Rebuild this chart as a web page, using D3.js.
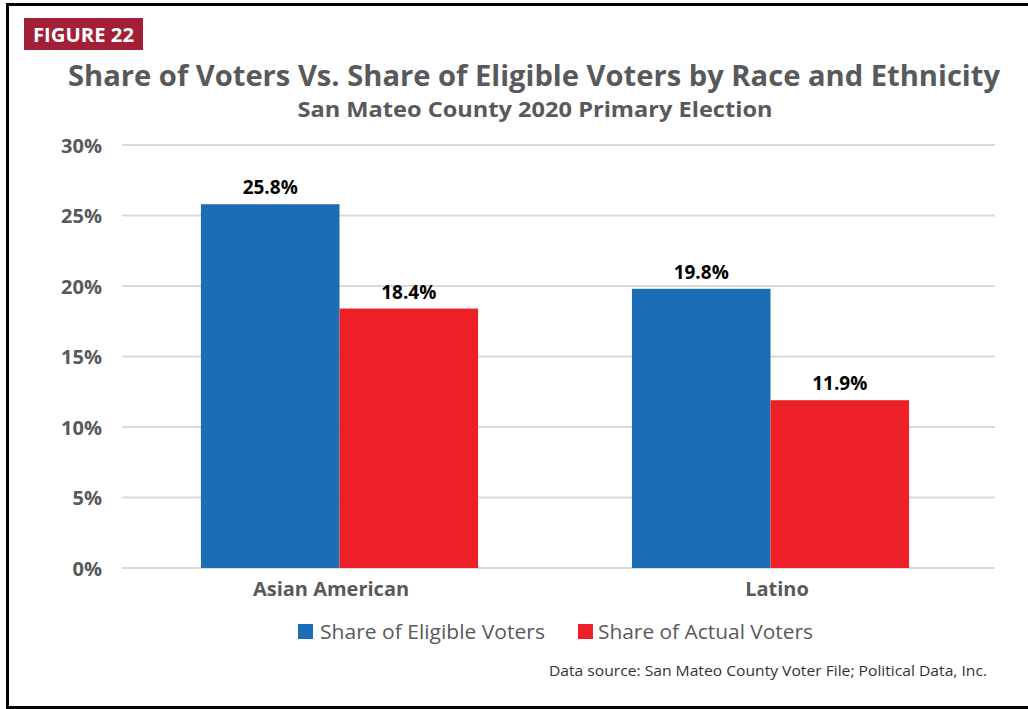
<!DOCTYPE html>
<html>
<head>
<meta charset="utf-8">
<script src="https://cdn.jsdelivr.net/npm/d3@7"></script>
<style>
  html, body { margin: 0; padding: 0; background: #fff; }
  svg { display: block; }
</style>
</head>
<body>
<svg id="chart" width="1028" height="709"></svg>
<script>
// Race / ethnicity groups and their shares (percent)
const categories = ["Asian American", "Latino"];
const seriesNames = ["Share of Eligible Voters", "Share of Actual Voters"];
const eligibleShare = [25.8, 19.8];
const actualShare = [18.4, 11.9];
const yTicks = [0, 5, 10, 15, 20, 25, 30];

const colors = ["#1b6eb6", "#ec2026"];
const grayText = "#58595b";
const fontFamily = "'Open Sans', 'Noto Sans', sans-serif";

const svg = d3.select("#chart");

// Outer frame
svg.append("rect")
  .attr("x", 7.5).attr("y", 4.5)
  .attr("width", 1040).attr("height", 703)
  .attr("fill", "#fff").attr("stroke", "#000").attr("stroke-width", 3);

// Figure tag
svg.append("rect")
  .attr("x", 24).attr("y", 18).attr("width", 119).attr("height", 32)
  .attr("fill", "#a21f37");
svg.append("text")
  .attr("x", 83.5).attr("y", 41.5)
  .attr("text-anchor", "middle")
  .attr("font-family", fontFamily).attr("font-weight", 700)
  .attr("font-size", 19).attr("fill", "#fff")
  .attr("textLength", 101).attr("lengthAdjust", "spacingAndGlyphs")
  .text("FIGURE 22");

// Titles
svg.append("text")
  .attr("x", 534).attr("y", 86)
  .attr("text-anchor", "middle")
  .attr("font-family", fontFamily).attr("font-weight", 700)
  .attr("font-size", 28).attr("fill", grayText)
  .attr("textLength", 932).attr("lengthAdjust", "spacingAndGlyphs")
  .text("Share of Voters Vs. Share of Eligible Voters by Race and Ethnicity");
svg.append("text")
  .attr("x", 535).attr("y", 117)
  .attr("text-anchor", "middle")
  .attr("font-family", fontFamily).attr("font-weight", 700)
  .attr("font-size", 21).attr("fill", grayText)
  .attr("textLength", 475).attr("lengthAdjust", "spacingAndGlyphs")
  .text("San Mateo County 2020 Primary Election");

// Scales
const y = d3.scaleLinear().domain([0, 30]).range([568, 145]);
const x0 = d3.scaleBand().domain(categories).range([124, 986]).paddingInner(0.357).paddingOuter(0.1785);
const x1 = d3.scaleBand().domain(seriesNames).range([0, x0.bandwidth()]);
// Category axis spans the full plot area
const xCat = d3.scaleBand().domain(categories).range([108, 1000]);

// Gridlines
svg.append("g").selectAll("line")
  .data(yTicks)
  .join("line")
  .attr("x1", 122).attr("x2", 995)
  .attr("y1", d => y(d)).attr("y2", d => y(d))
  .attr("stroke", "#d9d9d9").attr("stroke-width", 2);

// Y axis labels
const yAxis = d3.axisLeft(y).tickValues(yTicks).tickFormat(d => d + "%").tickSize(0).tickPadding(0);
const yg = svg.append("g").attr("transform", "translate(102,0)").call(yAxis);
yg.select(".domain").remove();
yg.selectAll("text")
  .attr("font-family", fontFamily).attr("font-weight", 700)
  .attr("font-size", 20).attr("fill", grayText)
  .attr("dy", "0.36em");

// Bars
const rows = categories.map((c, i) => ({
  category: c,
  values: [
    { series: seriesNames[0], value: eligibleShare[i], color: colors[0] },
    { series: seriesNames[1], value: actualShare[i], color: colors[1] }
  ]
}));

const groups = svg.append("g").selectAll("g")
  .data(rows)
  .join("g")
  .attr("transform", d => `translate(${x0(d.category)},0)`);

groups.selectAll("rect")
  .data(d => d.values)
  .join("rect")
  .attr("x", d => x1(d.series))
  .attr("y", d => y(d.value))
  .attr("width", x1.bandwidth())
  .attr("height", d => y(0) - y(d.value))
  .attr("fill", d => d.color);

groups.selectAll("text")
  .data(d => d.values)
  .join("text")
  .attr("x", d => x1(d.series) + x1.bandwidth() / 2)
  .attr("y", d => y(d.value) - 10)
  .attr("text-anchor", "middle")
  .attr("font-family", fontFamily).attr("font-weight", 700)
  .attr("font-size", 19).attr("fill", "#000")
  .text(d => d.value.toFixed(1) + "%");

// Category labels
const xAxis = d3.axisBottom(xCat).tickSize(0).tickPadding(0);
const xg = svg.append("g").attr("transform", "translate(0,596)").call(xAxis);
xg.select(".domain").remove();
xg.selectAll("text")
  .attr("font-family", fontFamily).attr("font-weight", 700)
  .attr("font-size", 20).attr("fill", grayText)
  .attr("dy", 0);

// Legend
const legendX = [298, 578];
const legendTextLen = [225, 215];
const legend = svg.append("g").selectAll("g")
  .data(seriesNames)
  .join("g")
  .attr("transform", (d, i) => `translate(${legendX[i]},624)`);
legend.append("rect")
  .attr("width", 15).attr("height", 15)
  .attr("fill", (d, i) => colors[i]);
legend.append("text")
  .attr("x", (d, i) => i === 0 ? 22 : 20).attr("y", 15)
  .attr("font-family", fontFamily)
  .attr("font-size", 20).attr("fill", grayText)
  .attr("textLength", (d, i) => legendTextLen[i]).attr("lengthAdjust", "spacingAndGlyphs")
  .text(d => d);

// Source note
svg.append("text")
  .attr("x", 987).attr("y", 676)
  .attr("text-anchor", "end")
  .attr("font-family", fontFamily)
  .attr("font-size", 15).attr("fill", "#333")
  .attr("textLength", 438).attr("lengthAdjust", "spacingAndGlyphs")
  .text("Data source: San Mateo County Voter File; Political Data, Inc.");
</script>
</body>
</html>
